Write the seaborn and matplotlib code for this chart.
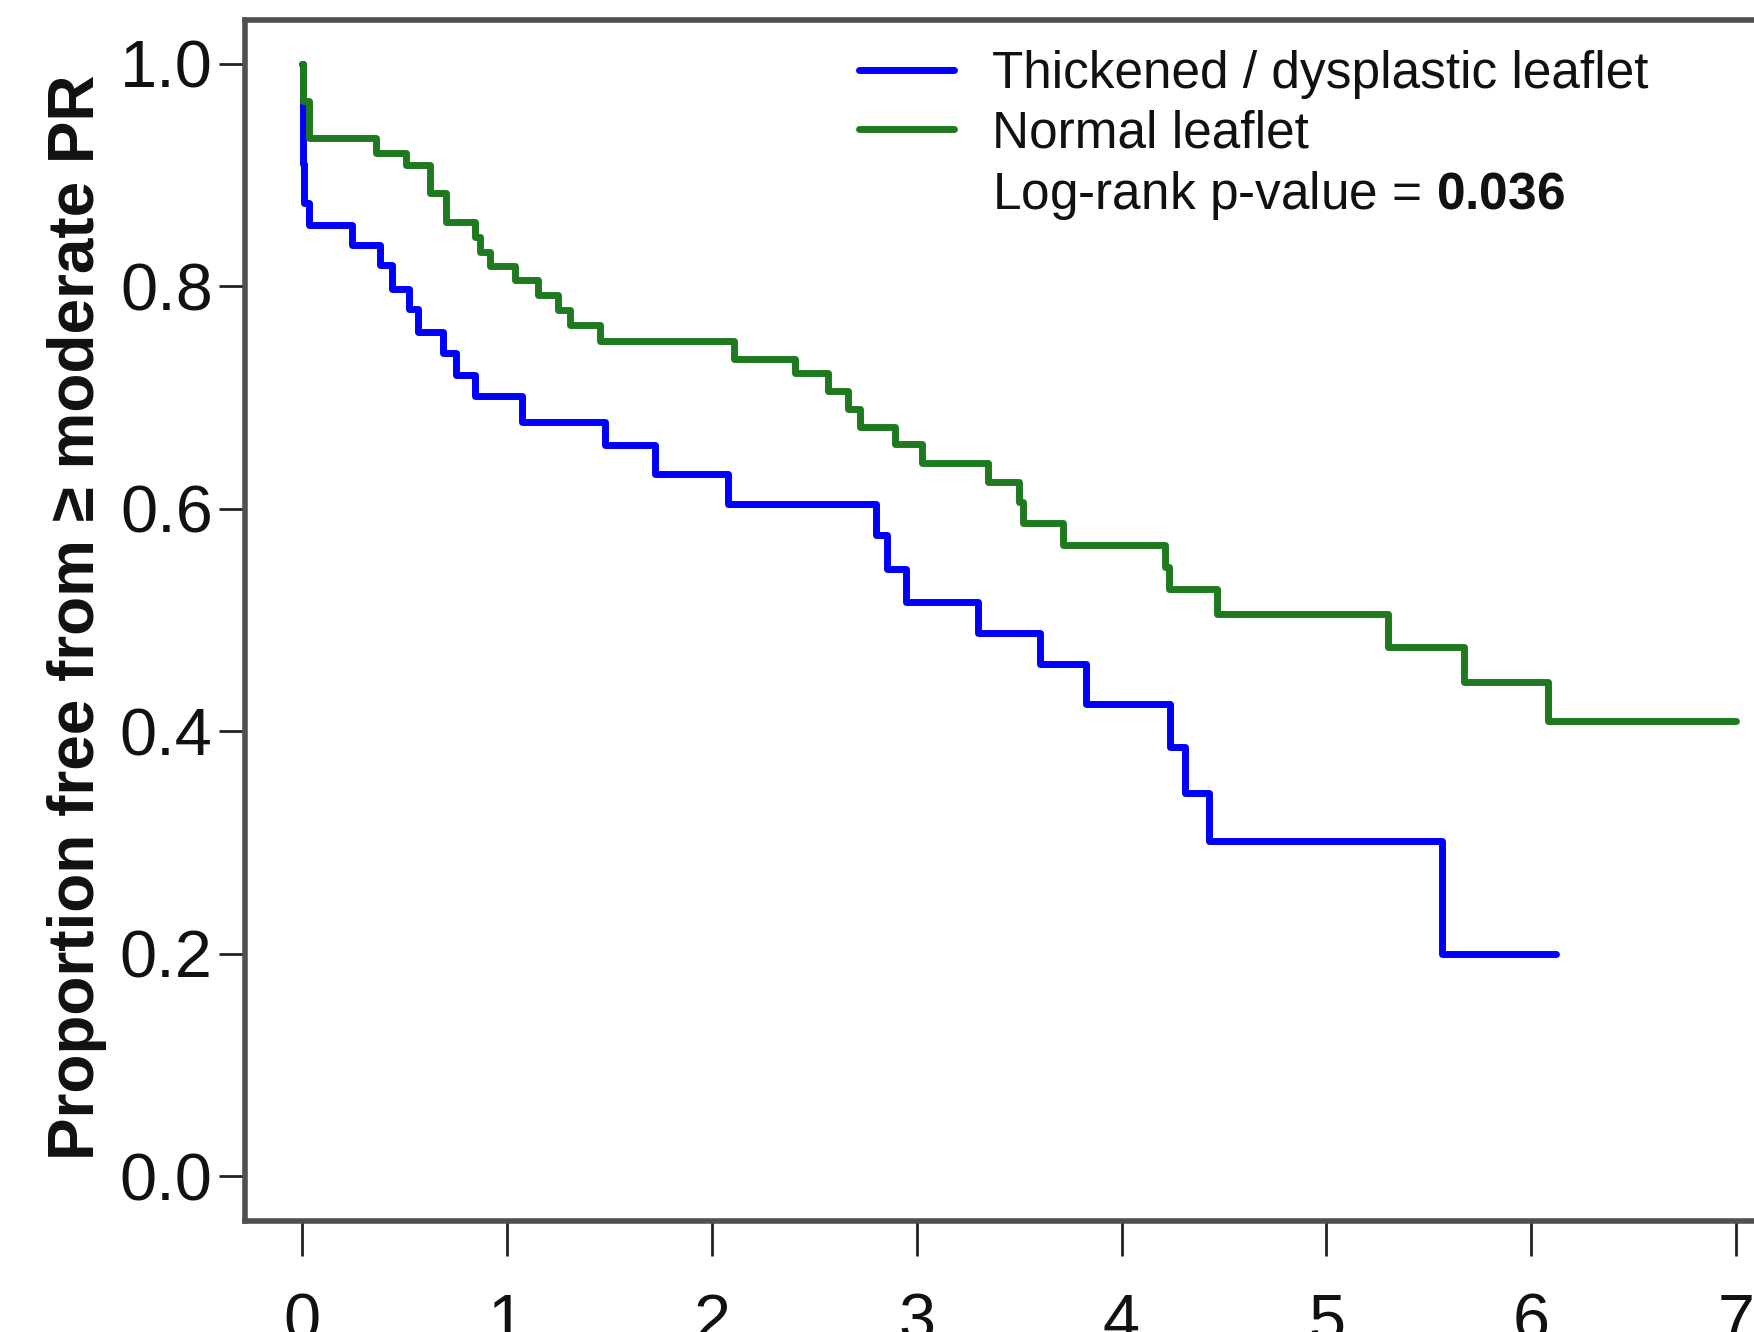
import matplotlib
matplotlib.use("Agg")
import matplotlib.pyplot as plt
from matplotlib.lines import Line2D
import seaborn as sns
import pandas as pd

# ---- data ----
time_thick = [0, 0.005, 0.01, 0.035, 0.243, 0.38, 0.438, 0.52, 0.568, 0.69, 0.753, 0.846,
              1.072, 1.479, 1.725, 2.08, 2.80, 2.855, 2.949, 3.30, 3.60, 3.826, 4.237,
              4.31, 4.428, 5.565, 6.12]
surv_thick = [1.0, 0.91, 0.875, 0.855, 0.837, 0.819, 0.798, 0.780, 0.759, 0.740, 0.720, 0.701,
              0.678, 0.657, 0.631, 0.604, 0.576, 0.546, 0.516, 0.488, 0.460, 0.4245, 0.3855,
              0.344, 0.301, 0.200, 0.200]
time_normal = [0, 0.005, 0.034, 0.36, 0.51, 0.625, 0.705, 0.845, 0.87, 0.918, 1.04, 1.153,
               1.251, 1.308, 1.454, 2.108, 2.407, 2.566, 2.665, 2.724, 2.893, 3.024, 3.35,
               3.50, 3.52, 3.714, 4.21, 4.23, 4.465, 5.30, 5.672, 6.08, 7.0]
surv_normal = [1.0, 0.967, 0.933, 0.920, 0.909, 0.884, 0.858, 0.844, 0.831, 0.818, 0.806, 0.792,
               0.779, 0.765, 0.751, 0.735, 0.722, 0.706, 0.690, 0.674, 0.658, 0.641, 0.624,
               0.606, 0.587, 0.567, 0.548, 0.5275, 0.505, 0.476, 0.444, 0.409, 0.409]
groups = ["Thickened / dysplastic leaflet", "Normal leaflet"]
colors = ["#0000FF", "#1f7a1f"]
x_ticks = [0, 1, 2, 3, 4, 5, 6, 7]
y_ticks = [0.0, 0.2, 0.4, 0.6, 0.8, 1.0]
y_label = "Proportion free from \u2265 moderate PR"
pval_text = "0.036"

sns.set_style("white")
plt.rcParams['font.family'] = ['Liberation Sans', 'DejaVu Sans']
plt.rcParams['mathtext.fontset'] = 'custom'
plt.rcParams['mathtext.rm'] = 'Liberation Sans'
plt.rcParams['mathtext.bf'] = 'Liberation Sans:bold'

df = pd.concat([
    pd.DataFrame({"time": time_thick, "surv": surv_thick, "group": groups[0]}),
    pd.DataFrame({"time": time_normal, "surv": surv_normal, "group": groups[1]}),
], ignore_index=True)

fig = plt.figure(figsize=(17.54, 13.32), dpi=100)
ax = fig.add_axes([244.6 / 1754, 111.5 / 1332, 1549 / 1754, 1201 / 1332])

sns.lineplot(data=df, x="time", y="surv", hue="group", hue_order=groups,
             palette=colors, estimator=None, sort=False, drawstyle="steps-post",
             linewidth=5, legend=False, ax=ax)

ax.set_xlim(-0.28, 7.28)
ax.set_ylim(-0.04, 1.04)
ax.set_xticks(x_ticks)
ax.set_xticklabels([str(v) for v in x_ticks])
ax.set_yticks(y_ticks)
ax.set_yticklabels([f"{v:.1f}" for v in y_ticks])
ax.tick_params(axis='y', direction='out', length=19, width=2, color='#222222',
               pad=4, labelsize=48, labelcolor='#111111', left=True)
ax.tick_params(axis='x', direction='out', length=25, width=2, color='#222222',
               pad=27, labelsize=48, labelcolor='#111111', bottom=True)
for s in ax.spines.values():
    s.set_visible(True)
    s.set_color('#505050')
    s.set_linewidth(4)

ax.set_xlabel("")
ax.set_ylabel(y_label, fontsize=46, fontweight='bold', color='#111111')
ax.yaxis.set_label_coords(-0.089, 0.502)

handles = [Line2D([], [], color=colors[0], lw=5),
           Line2D([], [], color=colors[1], lw=5),
           Line2D([], [], color='none', lw=0)]
labels = [groups[0], groups[1], "Log-rank p-value = $\\mathbf{" + pval_text + "}$"]
fig.legend(handles, labels, loc='upper left', bbox_to_anchor=(859 / 1754, 1 - 50 / 1332),
           frameon=False, fontsize=37, handlelength=1.85, handletextpad=0.74,
           labelspacing=0.2, borderpad=0, borderaxespad=0, labelcolor='#111111')

fig.savefig("out.png", dpi=100)
